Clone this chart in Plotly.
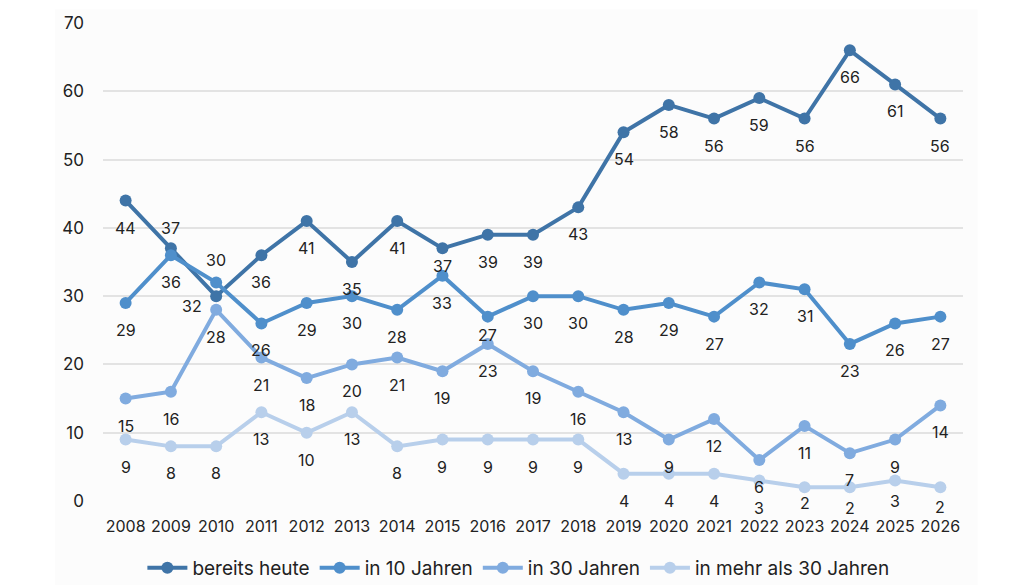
import plotly.graph_objects as go

years = [str(y) for y in range(2008, 2027)]
bereits_heute = [44, 37, 30, 36, 41, 35, 41, 37, 39, 39, 43, 54, 58, 56, 59, 56, 66, 61, 56]
in_10_jahren = [29, 36, 32, 26, 29, 30, 28, 33, 27, 30, 30, 28, 29, 27, 32, 31, 23, 26, 27]
in_30_jahren = [15, 16, 28, 21, 18, 20, 21, 19, 23, 19, 16, 13, 9, 12, 6, 11, 7, 9, 14]
mehr_30_jahren = [9, 8, 8, 13, 10, 13, 8, 9, 9, 9, 9, 4, 4, 4, 3, 2, 2, 3, 2]

series_names = ["bereits heute", "in 10 Jahren", "in 30 Jahren", "in mehr als 30 Jahren"]
series_values = [bereits_heute, in_10_jahren, in_30_jahren, mehr_30_jahren]
colors = ["#3f74a7", "#4f8fcb", "#80abdf", "#b8cfeb"]

# label offsets (px) for exceptions: (series index, year) -> (xshift, yshift)
label_exceptions = {
    (0, "2009"): (0, 20), (0, "2010"): (0, 36), (1, "2010"): (-24, -24),
    (0, "2015"): (0, -18), (1, "2016"): (0, -18),
    (3, "2023"): (0, -16), (3, "2024"): (0, -21), (3, "2025"): (0, -20), (3, "2026"): (0, -20),
}

FONT = "Inter, Lato, sans-serif"

fig = go.Figure()
for name, vals, col in zip(series_names, series_values, colors):
    fig.add_trace(go.Scatter(
        x=years, y=vals, name=name, mode="lines+markers",
        line=dict(color=col, width=4),
        marker=dict(color=col, size=12),
    ))

annotations = []
for si, vals in enumerate(series_values):
    for i, (yr, v) in enumerate(zip(years, vals)):
        xs, ys = label_exceptions.get((si, yr), (0, -27))
        annotations.append(dict(
            x=i, y=v, xref="x", yref="y", text=str(v), showarrow=False,
            xshift=xs, yshift=ys,
            font=dict(family=FONT, size=16, color="#222222"),
        ))

fig.update_layout(
    width=1024, height=585,
    margin=dict(l=103, r=61, t=23, b=84, autoexpand=False),
    paper_bgcolor="white",
    plot_bgcolor="rgba(0,0,0,0)",
    font=dict(family=FONT, size=15, color="#222222"),
    annotations=annotations,
    showlegend=True,
    legend=dict(orientation="h", x=0.483, xanchor="center", y=-0.1, yanchor="top",
                font=dict(family=FONT, size=19, color="#222222"),
                itemwidth=40, traceorder="normal", bgcolor="rgba(0,0,0,0)"),
    shapes=[dict(type="rect", xref="paper", yref="paper",
                 x0=-0.056, x1=1.017, y0=-0.2, y1=1.029,
                 fillcolor="#fcfcfc", line=dict(width=0), layer="below")],
    xaxis=dict(type="category", range=[-0.5, 18.5], showgrid=False, zeroline=False,
               showline=False, ticks="", tickfont=dict(size=16), ticklabelstandoff=14),
    yaxis=dict(range=[0, 70], dtick=10, showgrid=True, gridcolor="#e3e3e3", gridwidth=1.5,
               zeroline=False, showline=False, ticks="", tickfont=dict(size=17),
               ticklabelstandoff=18),
)

fig.write_html("out.html")
